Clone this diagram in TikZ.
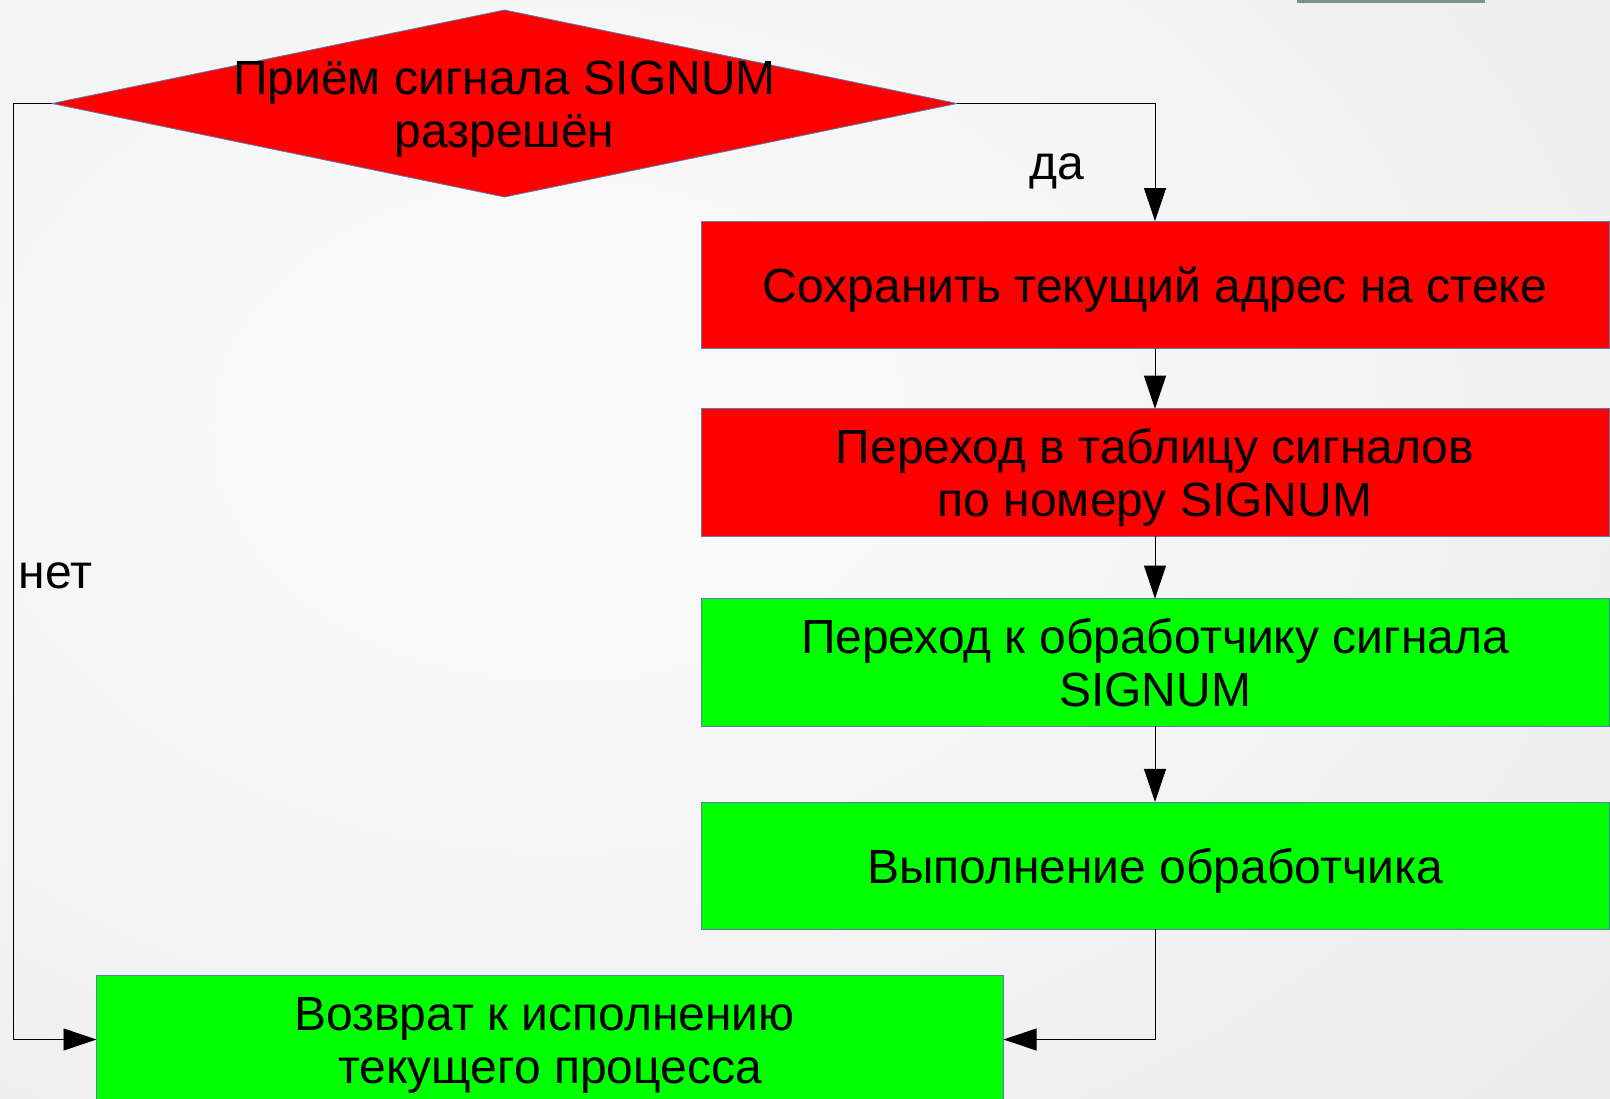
\documentclass[tikz,border=0pt]{standalone}
\usepackage{fontspec}
\setmainfont{Liberation Sans}
\usetikzlibrary{shapes.geometric,arrows.meta}
\definecolor{bgin}{HTML}{F9F9F9}
\definecolor{bgout}{HTML}{E2E2E2}
\definecolor{edgeblue}{HTML}{5A7AB0}
\definecolor{boxred}{HTML}{FF0000}
\definecolor{boxgreen}{HTML}{00FF00}
\definecolor{topbar}{HTML}{7E8E93}
\pgfdeclareradialshading{bgshade}{\pgfpoint{0bp}{0bp}}{color(0bp)=(bgin); color(5bp)=(bgin); color(34bp)=(bgout); color(80bp)=(bgout)}
% one line of text with fixed ascent/descent (like the original's line boxes)
\newcommand\Ln[1]{\smash{#1}\rule[-8.8pt]{0pt}{52.6pt}}
\begin{document}
\begin{tikzpicture}[x=1pt,y=-1pt,
  txt/.style={font=\fontsize{48}{52.6}\selectfont, text=black},
  box/.style={txt, draw=edgeblue, line width=0.8pt, minimum width=908pt,
    minimum height=127.5pt, inner sep=0pt, outer sep=0pt, align=center},
  conn/.style={line width=0.9pt, draw=black,
    -{Triangle[length=33pt,width=22pt]}},
  lbl/.style={txt, inner sep=0pt}]

\useasboundingbox (0,0) rectangle (1610,1099);
\begin{scope}
  \clip (0,0) rectangle (1610,1099);
  \shade[shading=bgshade] (-1000,-700) rectangle (2120,1560);
\end{scope}
\fill[topbar] (1297,0) rectangle (1485,3.5);

\node[draw=edgeblue, line width=0.8pt, fill=boxred, shape=diamond,
  minimum width=905pt, minimum height=187pt, inner sep=0pt, outer sep=0pt]
  (dia) at (504.5,103.5) {};
\node[lbl, align=center] (diatext) at (dia.center)
  {\Ln{Приём сигнала SIGNUM}\\\Ln{разрешён}};

\node[box, fill=boxred]   (b1) at (1155,284.8) {\Ln{Сохранить текущий адрес на стеке}};
\node[box, fill=boxred]   (b2) at (1155,472.5) {\Ln{Переход в таблицу сигналов}\\\Ln{по номеру SIGNUM}};
\node[box, fill=boxgreen] (b3) at (1155,662.3) {\Ln{Переход к обработчику сигнала}\\\Ln{SIGNUM}};
\node[box, fill=boxgreen] (b4) at (1155,865.7) {\Ln{Выполнение обработчика}};
\node[box, fill=boxgreen, minimum width=907pt] (b5) at (550,1039.5)
  {\Ln{Возврат к исполнению\hspace*{11pt}}\\\Ln{текущего процесса}};

\coordinate (nl) at (13.3,103.5);

\draw[conn] (dia.east) -| (b1.north);
\draw[conn] (b1.south) -- (b2.north);
\draw[conn] (b2.south) -- (b3.north);
\draw[conn] (b3.south) -- (b4.north);
\draw[conn] (b4.south) |- (b5.east);
\draw[conn] (dia.west) -- (nl) |- (b5.west);

\node[lbl, anchor=base] (yes) at (1057,180) {да};
\node[lbl, anchor=base west] (no) at (18.5,588) {нет};
\end{tikzpicture}
\end{document}
